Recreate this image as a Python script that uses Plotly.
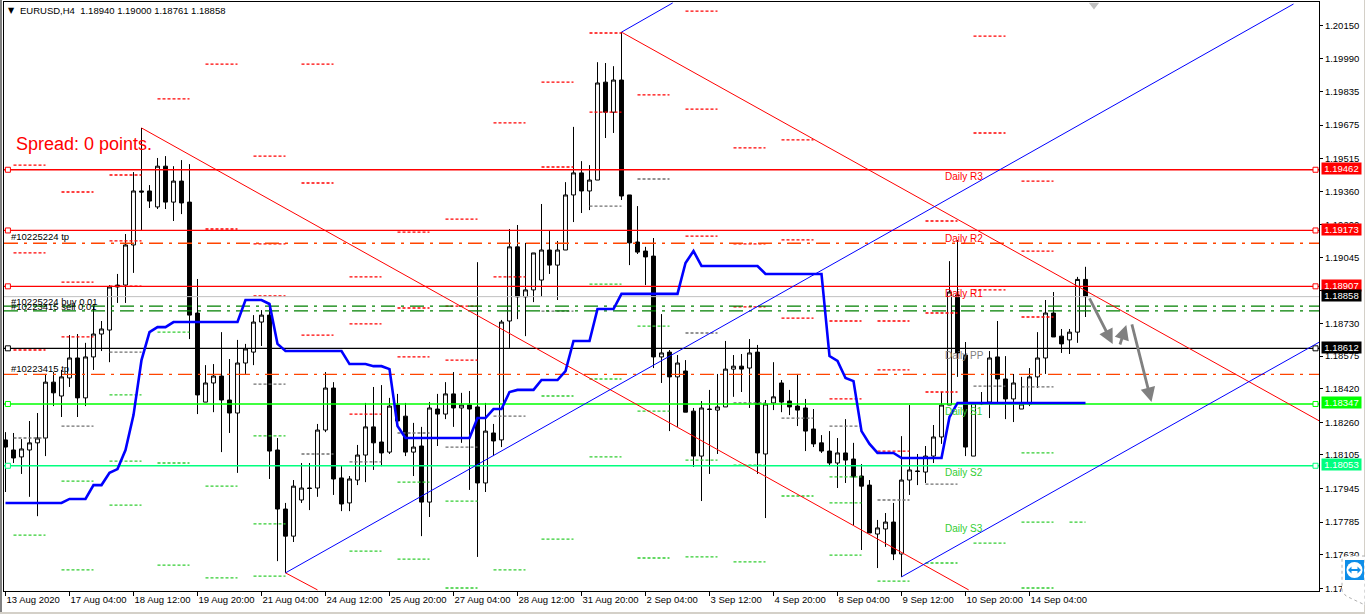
import plotly.graph_objects as go

# ---- candles (EURUSD H4) ----
opens = [1.18176,1.18128,1.18095,1.18128,1.18162,1.18185,1.18451,1.18385,1.18471,1.18566,1.18376,1.18571,1.18680,1.18699,1.18913,1.18913,1.19104,1.19361,1.19361,1.19285,
1.19479,1.19308,1.19408,1.19308,1.18780,1.18356,1.18447,1.18480,1.18366,1.18304,1.18542,1.18594,1.18737,1.18770,1.18128,1.17847,1.17718,1.17890,1.17947,1.17947,
1.18223,1.18423,1.17995,1.17876,1.17985,1.18104,1.18238,1.18166,1.18118,1.18342,1.18289,1.18118,1.18147,1.17880,1.18323,1.18299,1.18395,1.18328,1.18342,1.18333,
1.17971,1.18209,1.18176,1.18742,1.19095,1.18857,1.18890,1.18937,1.19080,1.19008,1.19080,1.19342,1.19447,1.19361,1.19413,1.19879,1.19736,1.19889,1.19342,1.19118,
1.19075,1.19051,1.18571,1.18594,1.18476,1.18504,1.18313,1.18099,1.18323,1.18318,1.18333,1.18513,1.18527,1.18518,1.18594,1.18109,1.18352,1.18447,1.18361,1.18337,
1.18328,1.18228,1.18162,1.18123,1.18066,1.18114,1.18085,1.18004,1.17961,1.17728,1.17752,1.17785,1.17633,1.17985,1.18028,1.18023,1.18099,1.18190,1.18342,1.18866,
1.18580,1.18099,1.18347,1.18356,1.18571,1.18466,1.18371,1.18323,1.18347,1.18476,1.18566,1.18780,1.18670,1.18652,1.18689,1.18940]
highs = [1.18213,1.18209,1.18180,1.18266,1.18304,1.18490,1.18499,1.18509,1.18675,1.18680,1.18638,1.18813,1.18742,1.18913,1.18966,1.19156,1.19451,1.19661,1.19389,1.19518,
1.19527,1.19479,1.19508,1.19489,1.18942,1.18532,1.18537,1.18689,1.18561,1.18652,1.18633,1.18770,1.18794,1.18828,1.18185,1.17876,1.17985,1.18066,1.18066,1.18252,
1.18499,1.18451,1.18056,1.18004,1.18152,1.18352,1.18428,1.18437,1.18376,1.18395,1.18352,1.18257,1.18238,1.18356,1.18395,1.18451,1.18499,1.18400,1.18409,1.19022,
1.18352,1.18252,1.18747,1.19180,1.19199,1.19114,1.19066,1.19299,1.19170,1.19123,1.19403,1.19666,1.19503,1.19484,1.19974,1.19970,1.19955,1.20117,1.19342,1.19289,
1.19095,1.19137,1.18775,1.18604,1.18580,1.18556,1.18328,1.18361,1.18414,1.18490,1.18647,1.18580,1.18585,1.18656,1.18628,1.18366,1.18546,1.18461,1.18414,1.18490,
1.18371,1.18323,1.18199,1.18218,1.18185,1.18275,1.18162,1.18061,1.17985,1.17795,1.17828,1.17876,1.18194,1.18342,1.18109,1.18147,1.18247,1.18404,1.19027,1.19128,
1.18642,1.18356,1.18404,1.18599,1.18742,1.18575,1.18490,1.18476,1.18518,1.18689,1.18842,1.18880,1.18704,1.18704,1.18952,1.19000]
lows = [1.17928,1.18066,1.18014,1.17905,1.17813,1.18099,1.18337,1.18285,1.18428,1.18285,1.18337,1.18509,1.18599,1.18546,1.18828,1.18828,1.18971,1.19175,1.19280,1.19275,
1.19275,1.19218,1.19251,1.18656,1.18299,1.18356,1.18308,1.18118,1.18209,1.18019,1.18490,1.18532,1.18623,1.17990,1.17599,1.17543,1.17690,1.17876,1.17842,1.17905,
1.18213,1.17914,1.17837,1.17837,1.17961,1.17975,1.18033,1.18051,1.18109,1.18238,1.18099,1.18004,1.17718,1.17809,1.18147,1.18275,1.18238,1.18162,1.17938,1.17619,
1.17928,1.18099,1.18142,1.18614,1.18751,1.18670,1.18832,1.18857,1.18966,1.18842,1.19080,1.19213,1.19256,1.19270,1.19413,1.19613,1.19637,1.19318,1.19008,1.19061,
1.18913,1.18518,1.18447,1.18218,1.18238,1.18308,1.18047,1.17885,1.18014,1.18109,1.18333,1.18381,1.18404,1.18328,1.18014,1.17804,1.18318,1.18308,1.18294,1.18242,
1.18123,1.18142,1.18114,1.18051,1.17947,1.17971,1.17771,1.17652,1.17733,1.17566,1.17667,1.17604,1.17524,1.17914,1.17961,1.17971,1.18066,1.18157,1.18342,1.18476,
1.18099,1.18099,1.18342,1.18280,1.18356,1.18275,1.18261,1.18323,1.18337,1.18423,1.18490,1.18666,1.18590,1.18585,1.18638,1.18761]
closes = [1.18142,1.18090,1.18133,1.18162,1.18185,1.18451,1.18400,1.18476,1.18566,1.18376,1.18571,1.18680,1.18704,1.18904,1.18904,1.19104,1.19361,1.19356,1.19313,1.19479,
1.19308,1.19408,1.19304,1.18770,1.18390,1.18447,1.18480,1.18366,1.18304,1.18542,1.18609,1.18737,1.18770,1.18123,1.17847,1.17718,1.17956,1.17947,1.17945,1.18223,
1.18423,1.17990,1.17871,1.17990,1.18104,1.18238,1.18162,1.18114,1.18337,1.18266,1.18118,1.18142,1.17880,1.18328,1.18299,1.18395,1.18328,1.18342,1.18323,1.17971,
1.18218,1.18171,1.18737,1.19095,1.18857,1.18890,1.19066,1.19080,1.19008,1.19080,1.19342,1.19447,1.19361,1.19413,1.19875,1.19736,1.19889,1.19337,1.19114,1.19070,
1.19047,1.18571,1.18590,1.18476,1.18542,1.18308,1.18099,1.18328,1.18321,1.18333,1.18513,1.18527,1.18513,1.18590,1.18114,1.18347,1.18381,1.18356,1.18333,1.18318,
1.18218,1.18157,1.18123,1.18066,1.18114,1.18080,1.18000,1.17956,1.17733,1.17757,1.17785,1.17633,1.17985,1.18033,1.18026,1.18099,1.18190,1.18342,1.18880,1.18590,
1.18142,1.18352,1.18352,1.18566,1.18466,1.18371,1.18447,1.18347,1.18476,1.18566,1.18780,1.18666,1.18633,1.18689,1.18940,1.18858]
bars = list(range(len(closes)))

# ---- indicator (thick blue) ----
blue_line = [1.17876]*8 + [1.17895,1.17895,1.17895,1.17961,1.17961,1.18019,1.18037,1.18128,1.18294,1.18556,1.18689,1.18713,1.18713] \
    + [1.18737]*9 + [1.18842,1.18842,1.18842,1.18823,1.18633] + [1.18599]*8 + [1.18537,1.18537,1.18537,1.18527,1.18527,1.18513,1.18242] \
    + [1.18185]*9 + [1.18280,1.18280,1.18323,1.18323,1.18404,1.18414,1.18414,1.18414,1.18461,1.18461,1.18461,1.18504,1.18647,1.18647,1.18647] \
    + [1.18799]*3 + [1.18871]*8 + [1.19018,1.19075] + [1.19004]*8 + [1.18966]*8 \
    + [1.18575,1.18552,1.18471,1.18456,1.18218,1.18157,1.18114,1.18114,1.18114] + [1.18090]*6 + [1.18285] + [1.18352]*17

# ---- daily pivot levels: column index -> prices ----
pivot_red = {0:[1.19484,1.19066,1.18604],1:[1.19356,1.18927,1.18666],2:[1.19437,1.19123,1.18908],3:[1.19799],4:[1.19965,1.19180],
 5:[1.19527,1.19109,1.18861],6:[1.19965,1.19399,1.18675],7:[1.18952,1.18728,1.18299],8:[1.19165,1.18804,1.18571],9:[1.19227,1.18813,1.18556],
 10:[1.19685,1.18952],11:[1.19879,1.19475],12:[1.20113,1.19736],13:[1.19818],14:[1.20217,1.19751,1.19146],15:[1.19566,1.19109,1.18809],
 16:[1.19604,1.19128,1.18756],17:[1.18742,1.18371],18:[1.18742,1.18509,1.18123],19:[1.19218,1.18780,1.18404],20:[1.20098,1.19637,1.18890],
 21:[1.19408,1.19075,1.18761]}
pivot_gray = {0:[1.18185],1:[1.18242],2:[1.18594],5:[1.18442],6:[1.18109],7:[1.18071],8:[1.18209],9:[1.18142],10:[1.18289],11:[1.18789],
 12:[1.19289],13:[1.19418],14:[1.18685],15:[1.18352],16:[1.18280],17:[1.18242],18:[1.17890],19:[1.17966],20:[1.18432],21:[1.18428]}
pivot_green = {0:[1.17723],1:[1.17980,1.17557],2:[1.18390,1.18075,1.17866],3:[1.18689,1.18066,1.17580],4:[1.17956,1.17519],
 5:[1.18195,1.17776,1.17528],7:[1.17647],8:[1.17975,1.17609],9:[1.17885,1.17471],10:[1.17557],11:[1.18385,1.17704],
 12:[1.18918,1.18466,1.18095],13:[1.18718,1.18313,1.17614],14:[1.18080,1.17619],15:[1.18056,1.17595],16:[1.17909],
 17:[1.18000,1.17876,1.17628],18:[1.17504],19:[1.17590],20:[1.17685],21:[1.18114,1.17785,1.17471]}
pivot_green_last_day = 1.17785

# ---- trend lines: (bar, price, bar, price) ----
red_trends = [(17,1.19661,120.4,1.17462),(35,1.17543,39,1.17462),(77,1.20117,164.25,1.18266)]
blue_trends = [(35,1.17543,161,1.20251),(77,1.20117,83.4,1.20256),(112,1.17524,164.25,1.18642)]

# ---- horizontal levels ----
solid_levels = [(1.19462,"#FF0000"),(1.19173,"#FF0000"),(1.18907,"#FF0000"),(1.18612,"#000000"),(1.18347,"#00FF00"),(1.18053,"#00FF7F")]
dashdot_levels = [(1.19112,"#FF4500"),(1.18488,"#FF4500"),(1.18813,"#008000"),(1.18790,"#008000")]
current_price = 1.18858

order_labels = [("#10225224 tp",1.19142),("#10225224 buy 0.01",1.18837),("#10223415 sell 0.01",1.18813),("#10223415 tp",1.18518)]
daily_labels = [("Daily R3",1.19432,"#FF0000"),("Daily R2",1.19137,"#FF0000"),("Daily R1",1.18875,"#FF0000"),("Daily PP",1.18580,"#808080"),
                ("Daily S1",1.18313,"#32CD32"),("Daily S2",1.18019,"#32CD32"),("Daily S3",1.17752,"#32CD32")]
arrows = [(135.4,1.18857,138.4,1.18633),(139.25,1.18623,140.1,1.18723),(140.75,1.18733,143.25,1.18356)]

y_ticks = [1.20150,1.19990,1.19835,1.19675,1.19515,1.19360,1.19200,1.19045,1.18885,1.18730,1.18575,1.18420,1.18260,1.18105,1.17945,1.17785,1.17630,1.17470]
x_tick_bars = list(range(0,136,8))
x_tick_labels = ["13 Aug 2020","17 Aug 04:00","18 Aug 12:00","19 Aug 20:00","21 Aug 04:00","24 Aug 12:00","25 Aug 20:00","27 Aug 04:00","28 Aug 12:00",
                 "31 Aug 20:00","2 Sep 04:00","3 Sep 12:00","4 Sep 20:00","8 Sep 04:00","9 Sep 12:00","10 Sep 20:00","14 Sep 04:00"]

XMIN, XMAX = -0.1875, 164.1875
YMIN, YMAX = 1.174568, 1.202605
W, H = 1365, 614
L, R, T, B = 4, 46, 2, 23
FONT = "Liberation Sans"
TXT = 9.5
px = lambda x: (x - L) / (W - L - R)
py = lambda y: 1 - (y - T) / (H - T - B)

fig = go.Figure()
fig.add_trace(go.Candlestick(x=bars, open=opens, high=highs, low=lows, close=closes,
    increasing=dict(line=dict(color="#000000", width=1), fillcolor="#FFFFFF"),
    decreasing=dict(line=dict(color="#000000", width=1), fillcolor="#000000"),
    whiskerwidth=0, hoverinfo="skip"))

def pivots(levels, color, extra=None):
    xs, ys = [], []
    for col, prices in levels.items():
        start = 1 + 6 * col
        for p in prices:
            xs += [start, start + 4, None]
            ys += [p, p, None]
    if extra:
        xs += extra[0]; ys += extra[1]
    fig.add_trace(go.Scatter(x=xs, y=ys, mode="lines", hoverinfo="skip",
                             line=dict(color=color, width=1.3, dash="3px,2px")))

pivots(pivot_red, "#FF0000")
pivots(pivot_gray, "#707070")
pivots(pivot_green, "#32CD32", ([133, 135], [pivot_green_last_day, pivot_green_last_day]))

# current price
fig.add_trace(go.Scatter(x=[XMIN, XMAX], y=[current_price]*2, mode="lines", hoverinfo="skip",
                         line=dict(color="#C0C0C0", width=1)))
for lvl, col in dashdot_levels:
    fig.add_trace(go.Scatter(x=[XMIN, XMAX], y=[lvl, lvl], mode="lines", hoverinfo="skip",
                             line=dict(color=col, width=1.4, dash="14px,6px,3px,6px")))
for lvl, col in solid_levels:
    fig.add_trace(go.Scatter(x=[XMIN, XMAX], y=[lvl, lvl], mode="lines", hoverinfo="skip",
                             line=dict(color=col, width=1.3)))
    fig.add_trace(go.Scatter(x=[0.3, 163.75], y=[lvl, lvl], mode="markers", hoverinfo="skip",
                             marker=dict(symbol="square", size=5, color="#FFFFFF", line=dict(color=col, width=1))))
for x0, y0, x1, y1 in red_trends:
    fig.add_trace(go.Scatter(x=[x0, x1], y=[y0, y1], mode="lines", hoverinfo="skip", line=dict(color="#FF0000", width=1)))
for x0, y0, x1, y1 in blue_trends:
    fig.add_trace(go.Scatter(x=[x0, x1], y=[y0, y1], mode="lines", hoverinfo="skip", line=dict(color="#0000FF", width=1)))
fig.add_trace(go.Scatter(x=bars, y=blue_line, mode="lines", hoverinfo="skip", line=dict(color="#0000FF", width=2.6)))
fig.add_trace(go.Scatter(x=[136.06], y=[1.20246], mode="markers", hoverinfo="skip",
                         marker=dict(symbol="triangle-down", size=9, color="#C0C0C0")))

ann = []
ann.append(dict(xref="paper", yref="paper", x=px(6), y=py(10), xanchor="left", yanchor="middle", showarrow=False,
                text="▼", font=dict(family="DejaVu Sans", size=8, color="#000000")))
ann.append(dict(xref="paper", yref="paper", x=px(17.5), y=py(10), xanchor="left", yanchor="middle", showarrow=False,
                text="EURUSD,H4  1.18940 1.19000 1.18761 1.18858", font=dict(family=FONT, size=TXT, color="#000000")))
ann.append(dict(x=1.0, y=1.19585, xanchor="left", yanchor="middle", showarrow=False, text="Spread: 0 points.",
                font=dict(family=FONT, size=18, color="#FF0000")))
for t, p in order_labels:
    ann.append(dict(x=0.375, y=p, xanchor="left", yanchor="middle", showarrow=False, text=t,
                    font=dict(family=FONT, size=TXT, color="#000000")))
for t, p, c in daily_labels:
    ann.append(dict(x=117.125, y=p, xanchor="left", yanchor="middle", showarrow=False, text=t,
                    font=dict(family=FONT, size=10, color=c)))
for x0, y0, x1, y1 in arrows:
    ann.append(dict(x=x1, y=y1, ax=x0, ay=y0, xref="x", yref="y", axref="x", ayref="y", text="", showarrow=True,
                    arrowhead=2, arrowsize=1.05, arrowwidth=2.8, arrowcolor="#808080"))
box_labels = [(1.19462,"#FF0000"),(1.19173,"#FF0000"),(1.18907,"#FF0000"),(current_price,"#000000"),(1.18612,"#000000"),(1.18347,"#00FF00"),(1.18053,"#00FF7F")]
for p, c in box_labels:
    ann.append(dict(xref="paper", yref="y", x=px(1321), y=p, xanchor="left", yanchor="middle", showarrow=False,
                    text=f"{p:.5f}", bgcolor=c, width=39, height=11, borderpad=0, align="center", yshift=1,
                    font=dict(family=FONT, size=TXT, color="#FFFFFF")))

shapes = [
    dict(type="rect", xref="paper", yref="paper", x0=px(0), x1=px(2), y0=py(0), y1=py(614), fillcolor="#808080", line_width=0),
    dict(type="rect", xref="paper", yref="paper", x0=px(0), x1=px(1365), y0=py(612), y1=py(614), fillcolor="#D4D0C8", line_width=0),
    dict(type="rect", xref="paper", yref="paper", x0=px(1364), x1=px(1365), y0=py(0), y1=py(614), fillcolor="#D4D0C8", line_width=0),
    dict(type="path", xref="paper", yref="paper",
         path=f"M {px(1365)} {py(556)} L {px(1345)} {py(556)} L {px(1342)} {py(559)} L {px(1342)} {py(591)} L {px(1346)} {py(596)} L {px(1365)} {py(605)} Z",
         fillcolor="#FFFFFF", line=dict(color="#B0B0B0", width=1, dash="dot")),
    dict(type="rect", xref="paper", yref="paper", x0=px(1345), x1=px(1364), y0=py(560), y1=py(580), fillcolor="#0E8EE9", line_width=0),
    dict(type="circle", xref="paper", yref="paper", x0=px(1346.5), x1=px(1362.5), y0=py(562), y1=py(578), fillcolor="#FFFFFF", line_width=0),
    dict(type="path", xref="paper", yref="paper",
         path=f"M {px(1348)} {py(570)} L {px(1351.5)} {py(566.5)} L {px(1351.5)} {py(569)} L {px(1357.5)} {py(569)} L {px(1357.5)} {py(566.5)} L {px(1361)} {py(570)} L {px(1357.5)} {py(573.5)} L {px(1357.5)} {py(571)} L {px(1351.5)} {py(571)} L {px(1351.5)} {py(573.5)} Z",
         fillcolor="#0E8EE9", line_width=0),
]

fig.update_layout(
    width=W, height=H, margin=dict(l=L, r=R, t=T, b=B, pad=0, autoexpand=False), showlegend=False, hovermode=False,
    paper_bgcolor="#FFFFFF", plot_bgcolor="#FFFFFF", annotations=ann, shapes=shapes, dragmode=False,
    xaxis=dict(range=[XMIN, XMAX], rangeslider=dict(visible=False), showgrid=False, zeroline=False, automargin=False,
               tickmode="array", tickvals=x_tick_bars, ticktext=x_tick_labels, ticks="outside", ticklen=4, tickangle=0,
               tickcolor="#000000", tickwidth=1, ticklabelposition="outside right",
               tickfont=dict(family=FONT, size=TXT, color="#000000"),
               showline=True, linecolor="#000000", linewidth=1, mirror=True),
    yaxis=dict(range=[YMIN, YMAX], side="right", showgrid=False, zeroline=False, automargin=False,
               tickmode="array", tickvals=y_ticks, ticktext=[f"{v:.5f}" for v in y_ticks], ticks="outside", ticklen=3,
               tickcolor="#000000", tickwidth=1, tickfont=dict(family=FONT, size=TXT, color="#000000"),
               showline=True, linecolor="#000000", linewidth=1, mirror=True),
)
fig.write_html("out.html", config=dict(displayModeBar=False, staticPlot=False),
               post_script="document.body.style.margin='0';document.documentElement.style.overflow='hidden';")
